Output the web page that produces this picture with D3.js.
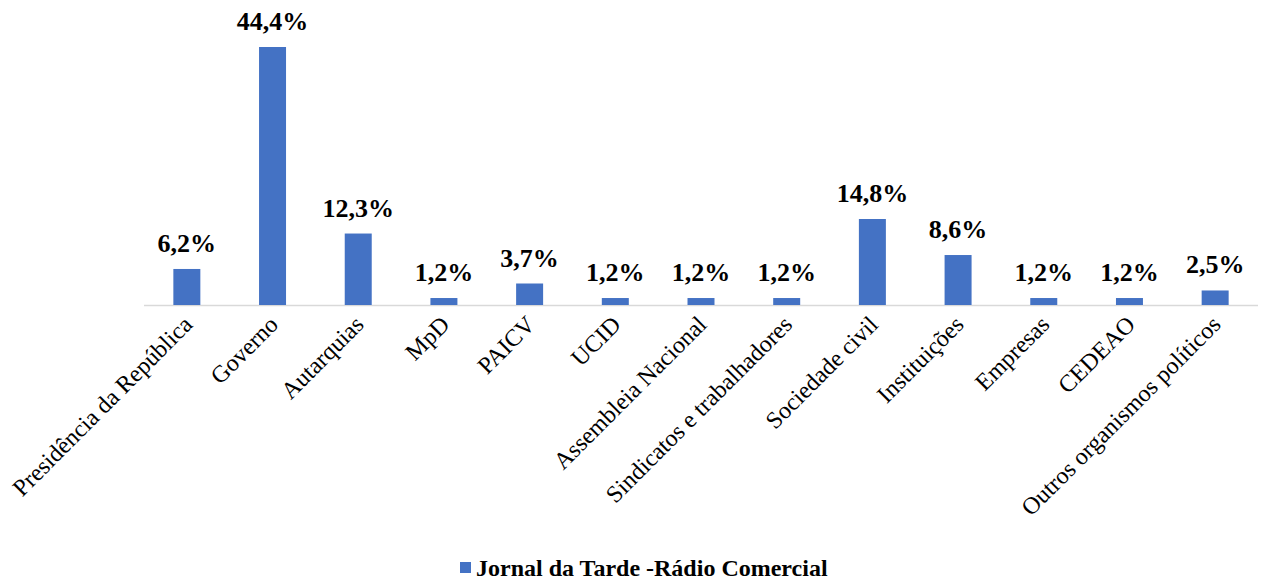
<!DOCTYPE html>
<html><head><meta charset="utf-8">
<script src="https://cdn.jsdelivr.net/npm/d3@7"></script>
<style>body{margin:0;background:#fff} text{font-family:"Liberation Serif","Times New Roman",Times,serif}</style>
</head><body>
<svg id="c" width="1266" height="582"></svg>
<script>
const categories = ["Presidência da República","Governo","Autarquias","MpD","PAICV","UCID","Assembleia Nacional","Sindicatos e trabalhadores","Sociedade civil","Instituições","Empresas","CEDEAO","Outros organismos políticos"];
const values = [6.2,44.4,12.3,1.2,3.7,1.2,1.2,1.2,14.8,8.6,1.2,1.2,2.5];
const labels = ["6,2%","44,4%","12,3%","1,2%","3,7%","1,2%","1,2%","1,2%","14,8%","8,6%","1,2%","1,2%","2,5%"];
const seriesName = "Jornal da Tarde -Rádio Comercial";

const svg = d3.select("#c");
const x = d3.scaleBand().domain(categories).range([144,1258]).paddingInner(0.685).paddingOuter(0.3425);
const y = d3.scaleLinear().domain([0,44.4]).range([305,47]);

svg.append("line").attr("x1",144).attr("x2",1258).attr("y1",305.5).attr("y2",305.5).attr("stroke","#d9d9d9").attr("stroke-width",1.5);

svg.selectAll("rect.bar").data(values).join("rect").attr("class","bar")
  .attr("x",(d,i)=>x(categories[i])).attr("width",x.bandwidth())
  .attr("y",d=>y(d)).attr("height",d=>y(0)-y(d)).attr("fill","#4472c4");

svg.selectAll("text.val").data(values).join("text").attr("class","val")
  .attr("x",(d,i)=>x(categories[i])+x.bandwidth()/2).attr("y",d=>y(d)-17)
  .attr("text-anchor","middle").attr("font-weight","bold").attr("font-size",26)
  .text((d,i)=>labels[i]);

svg.selectAll("text.cat").data(categories).join("text").attr("class","cat")
  .attr("transform",d=>`translate(${x(d)+x.bandwidth()/2+7},${326}) rotate(-45)`)
  .attr("text-anchor","end").attr("font-size",24).attr("fill","#000")
  .text(d=>d);

const lg = svg.append("g");
lg.append("rect").attr("x",460).attr("y",562).attr("width",11).attr("height",11).attr("fill","#4472c4");
lg.append("text").attr("x",476).attr("y",576).attr("font-weight","bold").attr("font-size",24).text(seriesName);
</script>
</body></html>
